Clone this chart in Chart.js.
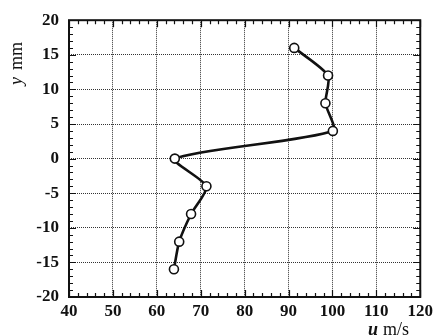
<!DOCTYPE html>
<html>
<head>
<meta charset="utf-8">
<script src="https://cdn.jsdelivr.net/npm/chart.js@4/dist/chart.umd.min.js"></script>
<style>
  html, body { margin: 0; padding: 0; background: #fff; }
  #wrap { width: 437px; height: 336px; }
</style>
</head>
<body>
<div id="wrap"><canvas id="c" width="437" height="336"></canvas></div>
<script>
// velocity profile u (m/s) against height y (mm)
const uValues = [91.3, 99.0, 98.4, 100.1, 64.1, 71.3, 67.8, 65.1, 63.9];
const yValues = [16, 12, 8, 4, 0, -4, -8, -12, -16];
const xTicks = [40, 50, 60, 70, 80, 90, 100, 110, 120];
const yTicks = [-20, -15, -10, -5, 0, 5, 10, 15, 20];

const SERIF = '"Liberation Serif", "DejaVu Serif", serif';

// inward tick marks on all four sides, major + minor, plus axis titles
const tickPlugin = {
    id: 'inTicks',
    afterDraw(chart) {
        const ctx = chart.ctx;
        const a = chart.chartArea;
        const xs = chart.scales.x, ys = chart.scales.y;
        ctx.save();
        ctx.strokeStyle = '#111';
        ctx.lineWidth = 1.2;
        ctx.beginPath();
        for (let v = 40; v <= 120; v += 2) {
            const px = Math.round(xs.getPixelForValue(v)) + 0.5;
            const len = (v % 10 === 0) ? 7 : 4;
            ctx.moveTo(px, a.bottom); ctx.lineTo(px, a.bottom - len);
            ctx.moveTo(px, a.top); ctx.lineTo(px, a.top + len);
        }
        for (let v = -20; v <= 20; v += 1) {
            const py = Math.round(ys.getPixelForValue(v)) + 0.5;
            const len = (v % 5 === 0) ? 7 : 4;
            ctx.moveTo(a.left, py); ctx.lineTo(a.left + len, py);
            ctx.moveTo(a.right, py); ctx.lineTo(a.right - len, py);
        }
        ctx.stroke();
        // frame
        ctx.lineWidth = 2;
        ctx.strokeRect(a.left, a.top, a.right - a.left, a.bottom - a.top);

        // axis titles
        ctx.fillStyle = '#111';
        ctx.textBaseline = 'middle';
        ctx.save();
        ctx.translate(17, 62);
        ctx.rotate(-Math.PI / 2);
        ctx.textAlign = 'left';
        ctx.font = 'italic 18px ' + SERIF;
        ctx.fillText('y', -23, 0);
        const wy = ctx.measureText('y').width;
        ctx.font = '18px ' + SERIF;
        ctx.fillText('mm', -23 + wy + 7, 0);
        ctx.restore();

        ctx.textAlign = 'left';
        ctx.font = 'bold italic 18px ' + SERIF;
        ctx.fillText('u', 368, 330);
        ctx.font = '18px ' + SERIF;
        ctx.fillText('m/s', 383, 330);
        ctx.restore();
    }
};

new Chart(document.getElementById('c'), {
    type: 'scatter',
    data: {
        datasets: [{
            data: uValues.map((u, i) => ({ x: u, y: yValues[i] })),
            showLine: true,
            tension: 0.22,
            borderColor: '#111',
            borderWidth: 2.6,
            pointRadius: 4.5,
            pointBorderWidth: 1.6,
            pointBackgroundColor: '#fff',
            pointBorderColor: '#111'
        }]
    },
    options: {
        responsive: false,
        animation: false,
        layout: { padding: { top: 17, right: 14, left: 0, bottom: 0 } },
        plugins: { legend: { display: false }, tooltip: { enabled: false } },
        scales: {
            x: {
                type: 'linear',
                min: 40, max: 120,
                afterBuildTicks: s => { s.ticks = xTicks.map(v => ({ value: v })); },
                afterFit: s => { s.height = 39; },
                grid: { color: '#333', lineWidth: 1, drawTicks: false },
                border: { display: false, dash: [1, 1] },
                ticks: {
                    padding: 4,
                    color: '#111',
                    maxRotation: 0,
                    font: { family: SERIF, size: 17, weight: 'bold' }
                }
            },
            y: {
                type: 'linear',
                min: -20, max: 20,
                afterBuildTicks: s => { s.ticks = yTicks.map(v => ({ value: v })); },
                afterFit: s => { s.width = 69; },
                grid: { color: '#333', lineWidth: 1, drawTicks: false },
                border: { display: false, dash: [1, 1] },
                ticks: {
                    padding: 10,
                    color: '#111',
                    font: { family: SERIF, size: 17, weight: 'bold' }
                }
            }
        }
    },
    plugins: [tickPlugin]
});
</script>
</body>
</html>
